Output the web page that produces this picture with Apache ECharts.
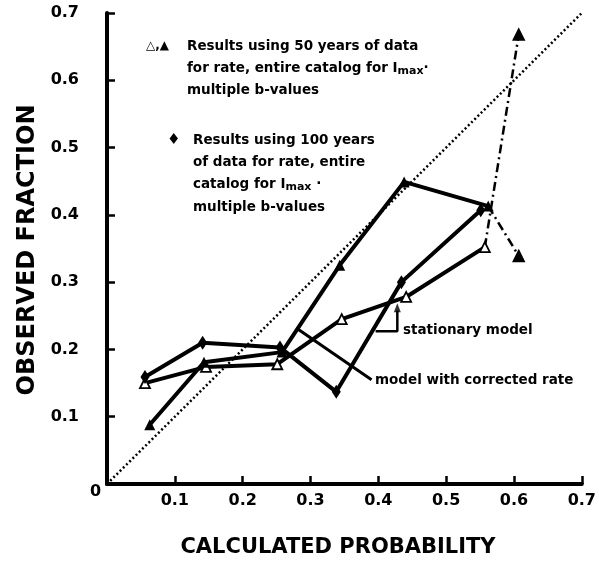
<!DOCTYPE html>
<html><head><meta charset="utf-8">
<script src="https://cdn.jsdelivr.net/npm/echarts@6/dist/echarts.min.js"></script>
<style>html,body{margin:0;padding:0;background:#fff}#c{width:599px;height:564px}</style>
</head><body><div id="c"></div>
<script>
// ---- data ----
const xTicks = [0.1,0.2,0.3,0.4,0.5,0.6,0.7];
const yTicks = [0.1,0.2,0.3,0.4,0.5,0.6,0.7];
const diagonal = [[0,0],[0.7,0.7]];
const filledTri = [[0.063,0.088],[0.143,0.181],[0.258,0.196],[0.343,0.325],[0.438,0.449],[0.562,0.413]];
const filledTriExt = [[0.562,0.413],[0.607,0.339]];
const openTri = [[0.056,0.150],[0.146,0.174],[0.251,0.178],[0.346,0.245],[0.441,0.278],[0.557,0.352]];
const openTriExt = [[0.557,0.352],[0.607,0.668]];
const diamond = [[0.056,0.159],[0.141,0.210],[0.255,0.203],[0.338,0.137],[0.434,0.300],[0.551,0.407]];
const pointerCorrected = [[0.39,0.155],[0.279,0.232]];
const pointerStationary = [[0.396,0.227],[0.428,0.227],[0.428,0.258]];
const arrowHead = [[0.428,0.262]];

const FONT = 'DejaVu Sans';
const chart = echarts.init(document.getElementById('c'), null, {renderer:'canvas'});

function endOnly(arr, sym, size, fill){
  return arr.map((p,i)=> i===arr.length-1 ? {value:p, symbol:sym, symbolSize:size, itemStyle:{color:fill,borderColor:'#000',borderWidth:1.5}} : {value:p, symbol:'none'});
}

const axisCommon = {
  type:'value', min:0, max:0.7, interval:0.1,
  axisLine:{show:true, onZero:false, lineStyle:{color:'#000', width:4}},
  axisTick:{show:true, inside:true, length:8, lineStyle:{color:'#000', width:2.5}},
  splitLine:{show:false},
  axisLabel:{color:'#000', fontFamily:FONT, fontWeight:'bold', fontSize:16, showMinLabel:false,
    formatter:v=> (xTicks.some(t=>Math.abs(t-v)<1e-9)? v.toFixed(1):'')}
};
const TXT = 'bold 13.5px '+FONT;
const SUB = 'bold 11px '+FONT;

chart.setOption({
  animation:false,
  color:['#000'],
  grid:{left:107, right:16, top:13, bottom:80},
  xAxis:Object.assign({}, axisCommon, {axisLabel:Object.assign({}, axisCommon.axisLabel, {margin:9})}),
  yAxis:Object.assign({}, axisCommon, {axisLabel:Object.assign({}, axisCommon.axisLabel, {margin:28,
    formatter:v=> (yTicks.some(t=>Math.abs(t-v)<1e-9)? v.toFixed(1):'')})}),
  series:[
    {type:'line', data:diagonal, symbol:'none', lineStyle:{color:'#000', width:2.5, type:[2,2.5]}},
    {type:'line', data:filledTriExt, symbol:'none', lineStyle:{color:'#000', width:2.5, type:[9,4,2,4]}},
    {type:'line', data:endOnly(filledTriExt,'triangle',11,'#000'), lineStyle:{opacity:0}},
    {type:'line', data:openTriExt, symbol:'none', lineStyle:{color:'#000', width:2.5, type:[9,4,2,4]}},
    {type:'line', data:endOnly(openTriExt,'triangle',11,'#000'), lineStyle:{opacity:0}},
    {type:'line', data:openTri, symbol:'triangle', symbolSize:10,
      itemStyle:{color:'#fff', borderColor:'#000', borderWidth:1.8}, lineStyle:{color:'#000', width:4}},
    {type:'line', data:diamond, symbol:'diamond', symbolSize:[9,14],
      itemStyle:{color:'#000'}, lineStyle:{color:'#000', width:4}},
    {type:'line', data:filledTri, symbol:'triangle', symbolSize:11,
      itemStyle:{color:'#000'}, lineStyle:{color:'#000', width:4}},
    {type:'line', data:pointerCorrected, symbol:'none', lineStyle:{color:'#000', width:3}},
    {type:'line', data:pointerStationary, symbol:'none', lineStyle:{color:'#000', width:2.5}},
    {type:'scatter', data:arrowHead, symbol:'triangle', symbolSize:[7,9], itemStyle:{color:'#000'}}
  ],
  graphic:[
    {type:'text', left:90, top:484, style:{text:'0', font:'bold 16px '+FONT, fill:'#000'}},
    {type:'text', x:28, y:250, rotation:Math.PI/2, style:{text:'OBSERVED FRACTION', font:'bold 24px '+FONT, fill:'#000', align:'center', verticalAlign:'middle'}},
    {type:'text', x:338, y:548, style:{text:'CALCULATED PROBABILITY', font:'bold 21px '+FONT, fill:'#000', align:'center', verticalAlign:'middle'}},
    {type:'text', x:146, y:46, style:{text:'△,▲', font:'bold 12px '+FONT, fill:'#000', verticalAlign:'middle'}},
    {type:'text', x:187, y:46, style:{text:'Results using 50 years of data', font:TXT, fill:'#000', verticalAlign:'middle'}},
    {type:'text', x:187, y:68, style:{rich:{a:{font:TXT, fill:'#000'}, s:{font:SUB, fill:'#000', padding:[7,0,0,0]}},
      text:'{a|for rate, entire catalog for I}{s|max}{a|·}', verticalAlign:'middle'}},
    {type:'text', x:187, y:90, style:{text:'multiple b-values', font:TXT, fill:'#000', verticalAlign:'middle'}},
    {type:'text', x:167, y:140, style:{text:'♦', font:'bold 15px '+FONT, fill:'#000', verticalAlign:'middle'}},
    {type:'text', x:193, y:140, style:{text:'Results using 100 years', font:TXT, fill:'#000', verticalAlign:'middle'}},
    {type:'text', x:193, y:162, style:{text:'of data for rate, entire', font:TXT, fill:'#000', verticalAlign:'middle'}},
    {type:'text', x:193, y:184, style:{rich:{a:{font:TXT, fill:'#000'}, s:{font:SUB, fill:'#000', padding:[7,0,0,0]}},
      text:'{a|catalog for I}{s|max}{a| ·}', verticalAlign:'middle'}},
    {type:'text', x:193, y:207, style:{text:'multiple b-values', font:TXT, fill:'#000', verticalAlign:'middle'}},
    {type:'text', x:403, y:330, style:{text:'stationary model', font:'bold 13.5px '+FONT, fill:'#000', verticalAlign:'middle'}},
    {type:'text', x:375, y:380, style:{text:'model with corrected rate', font:'bold 13.5px '+FONT, fill:'#000', verticalAlign:'middle'}}
  ]
});
</script></body></html>
